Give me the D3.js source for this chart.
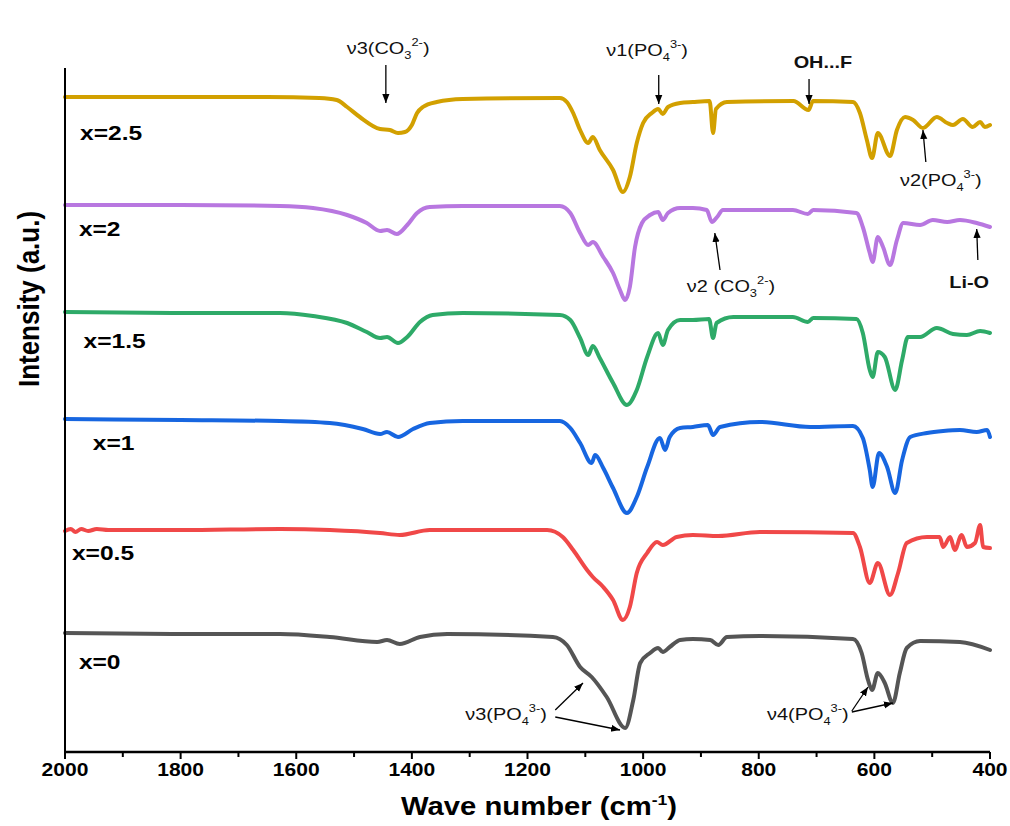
<!DOCTYPE html>
<html>
<head>
<meta charset="utf-8">
<script src="https://cdn.jsdelivr.net/npm/d3@7"></script>
<style>
  body { margin: 0; background: #fff; }
  svg text { font-family: "Liberation Sans", Arial, sans-serif; }
</style>
</head>
<body>
<div id="chart"></div>
<script>
let width = 1010,
    height = 826

// spectra: [wave number (cm-1), intensity (a.u., stacked)]
let spec_x0 = [[2000,11.9],[1800,11.8],[1628,11.8],[1542,11.5],[1460,11.0],[1443,11.2],[1421,10.8],[1386,11.5],[1339,11.8],
  [1156,11.5],[1132,10.7],[1109,8.5],[1089,7.5],[1063,5.5],[1031,2.4],[1017,5.2],[1005,8.9],[988,9.9],[974,10.4],[966,10.0],
  [954,10.5],[936,11.2],[914,11.3],[884,11.2],[870,10.7],[855,11.5],[798,11.6],[637,11.3],[622,9.9],[611,7.2],[604,6.2],
  [594,7.9],[582,6.9],[568,4.9],[556,7.9],[544,10.4],[521,11.1],[452,11.0],[400,10.2]]
let spec_x05 = [[2000,22.1],[1990,22.3],[1982,22.0],[1972,22.3],[1960,22.1],[1945,22.3],[1925,22.2],[1800,22.2],[1628,22.3],
  [1542,22.2],[1455,21.9],[1421,21.7],[1369,22.2],[1166,22.2],[1139,21.5],[1121,20.2],[1097,18.2],[1087,17.5],[1069,16.5],
  [1052,15.2],[1035,13.2],[1023,14.5],[1011,17.9],[993,19.9],[976,21.0],[966,20.7],[942,21.5],[914,21.7],[870,21.6],[798,22.0],
  [637,21.9],[625,20.5],[608,16.9],[594,18.9],[573,15.7],[559,17.9],[544,20.9],[509,21.5],[487,21.5],[481,20.5],[469,21.5],
  [461,20.2],[449,21.7],[440,20.5],[426,20.9],[417,22.7],[412,20.5],[400,20.4]]
let spec_x1 = [[2000,33.3],[1800,33.2],[1628,33.1],[1542,32.9],[1485,32.3],[1455,31.8],[1443,32.0],[1424,31.5],[1398,32.3],
  [1369,32.9],[1312,33.1],[1144,33.1],[1126,32.4],[1109,30.9],[1089,28.9],[1083,29.7],[1069,28.4],[1052,26.4],[1028,23.9],
  [1011,25.5],[993,28.5],[971,31.4],[962,30.2],[954,31.5],[936,32.4],[914,32.5],[888,32.7],[879,31.7],[867,32.5],[798,33.0],
  [711,32.5],[637,32.6],[620,31.4],[608,28.2],[603,26.5],[592,29.9],[578,28.5],[564,25.9],[552,29.2],[538,31.5],[509,31.9],
  [481,32.1],[452,32.2],[423,32.0],[405,32.2],[400,31.5]]
let spec_x15 = [[2000,44.0],[1800,43.9],[1628,43.9],[1571,43.6],[1512,42.9],[1478,42.0],[1455,41.4],[1443,41.5],[1424,40.9],
  [1408,41.5],[1386,43.0],[1364,43.7],[1312,43.9],[1144,43.7],[1126,43.2],[1109,41.4],[1095,39.7],[1087,40.6],[1075,39.4],
  [1052,36.9],[1028,34.7],[1011,36.2],[993,39.5],[974,41.9],[966,40.7],[957,42.2],[936,43.2],[914,43.2],[886,43.3],[879,41.4],
  [873,42.9],[844,43.5],[741,43.5],[715,43.0],[706,43.4],[631,43.3],[620,41.9],[608,38.2],[603,37.5],[594,40.0],[582,39.5],
  [564,36.2],[552,39.2],[542,41.5],[521,41.5],[492,42.4],[464,41.8],[440,41.7],[417,42.1],[400,41.9]]
let spec_x2 = [[2000,54.7],[1800,54.7],[1628,54.6],[1571,54.4],[1512,53.7],[1478,52.9],[1455,52.1],[1443,52.2],[1426,51.8],
  [1408,52.7],[1391,53.9],[1369,54.5],[1312,54.6],[1144,54.6],[1126,53.9],[1109,51.9],[1095,50.7],[1087,51.0],[1069,49.5],
  [1052,47.9],[1040,46.2],[1031,45.2],[1023,46.5],[1014,50.5],[1002,52.9],[988,53.7],[974,54.0],[966,53.2],[957,53.9],
  [936,54.4],[914,54.4],[890,54.2],[881,53.0],[872,53.5],[862,54.2],[741,54.2],[715,53.8],[706,54.2],[631,53.9],[620,52.5],
  [608,49.9],[603,49.0],[594,51.5],[585,50.5],[573,48.7],[561,51.2],[550,52.9],[521,52.7],[499,53.2],[474,53.0],[452,53.2],
  [423,52.9],[400,52.5]]
let spec_x25 = [[2000,65.5],[1800,65.5],[1650,65.5],[1560,65.4],[1530,65.2],[1512,64.5],[1490,63.5],[1455,62.3],[1438,62.2],
  [1424,61.9],[1412,62.0],[1400,62.7],[1391,63.9],[1381,64.5],[1357,65.0],[1312,65.3],[1144,65.4],[1132,65.0],[1121,63.9],
  [1109,62.2],[1095,60.9],[1087,61.5],[1075,60.2],[1052,58.2],[1035,56.0],[1023,57.5],[1011,60.9],[1000,62.9],[985,63.9],
  [974,64.3],[966,63.8],[957,64.5],[936,64.9],[914,65.0],[885,65.1],[879,61.9],[874,64.3],[855,65.0],[740,65.1],[714,64.2],
  [706,65.1],[637,65.0],[625,63.9],[613,61.2],[604,59.4],[594,61.9],[573,59.6],[561,62.2],[547,63.5],[533,63.2],[516,62.4],
  [492,63.5],[474,62.9],[464,62.7],[447,63.3],[430,62.5],[417,63.0],[409,62.5],[400,62.7]]

let seriesNames = ["x=0", "x=0.5", "x=1", "x=1.5", "x=2", "x=2.5"]
let seriesData = [spec_x0, spec_x05, spec_x1, spec_x15, spec_x2, spec_x25]
let seriesColors = ["#555555", "#f04848", "#1766e0", "#2eaa68", "#b877e0", "#d2a000"]

let majorTicks = [2000, 1800, 1600, 1400, 1200, 1000, 800, 600, 400]
let minorTicks = [1900, 1700, 1500, 1300, 1100, 900, 700, 500]

// label anchors (wave number, intensity)
let labelAt = [[1976, 8.3], [1988, 19.2], [1952, 30.2], [1968, 40.4], [1976, 51.6], [1974, 61.2]]

// annotations: text parts, text anchor, arrows [from, to]
let notes = [
  {parts: [["ν3(CO"], ["3", "sub"], ["2-", "sup"], [")"]], at: [1441, 69.8], arrows: [[[1445, 68.7], [1445, 64.9]]]},
  {parts: [["ν1(PO"], ["4", "sub"], ["3-", "sup"], [")"]], at: [993, 69.6], arrows: [[[973, 67.7], [973, 64.8]]]},
  {parts: [["OH...F"]], at: [689, 68.4], bold: true, arrows: [[[713, 67.3], [713, 64.8]]]},
  {parts: [["ν2(PO"], ["4", "sub"], ["3-", "sup"], [")"]], at: [485, 56.6], arrows: [[[511, 59.0], [516, 62.2]]]},
  {parts: [["ν2 (CO"], ["3", "sub"], ["2-", "sup"], [")"]], at: [848, 46.0], arrows: [[[867, 48.2], [876, 51.9]]]},
  {parts: [["Li-O"]], at: [436, 46.4], bold: true, arrows: [[[421, 49.2], [423, 52.3]]]},
  {parts: [["ν3(PO"], ["4", "sub"], ["3-", "sup"], [")"]], at: [1237, 3.2], arrows: [[[1152, 4.2], [1104, 6.9]], [[1152, 3.5], [1040, 2.2]]]},
  {parts: [["ν4(PO"], ["4", "sub"], ["3-", "sup"], [")"]], at: [715, 3.2], arrows: [[[639, 4.1], [611, 6.5]], [[639, 4.0], [568, 4.9]]]}
]

// text in the source figure is drawn a little wide
const SX = 1.17

let svg = d3.select("#chart")
  .append("svg")
    .attr("width", width)
    .attr("height", height)

let x = d3.scaleLinear().domain([2000, 400]).range([65, 990])
let y = d3.scaleLinear().domain([0, 68.4]).range([752, 68])

svg.append("defs").append("marker")
    .attr("id", "head")
    .attr("viewBox", "0 0 10 10")
    .attr("refX", 10).attr("refY", 5)
    .attr("markerWidth", 9).attr("markerHeight", 9)
    .attr("markerUnits", "userSpaceOnUse")
    .attr("orient", "auto")
  .append("path")
    .attr("d", "M0,1 L10,5 L0,9 z")
    .attr("fill", "#000")

let line = d3.line()
  .x(d => x(d[0]))
  .y(d => y(d[1]))
  .curve(d3.curveMonotoneX)

svg.selectAll(".spec")
  .data(seriesData)
  .enter()
  .append("path")
    .attr("class", "spec")
    .attr("d", line)
    .attr("fill", "none")
    .attr("stroke", (d, i) => seriesColors[i])
    .attr("stroke-width", 4)
    .attr("stroke-linejoin", "round")
    .attr("stroke-linecap", "round")

// axes
svg.append("line")
    .attr("x1", 65).attr("x2", 65)
    .attr("y1", y(68.4)).attr("y2", y(0) + 1)
    .attr("stroke", "#000").attr("stroke-width", 2)

let xAxis = svg.append("g").attr("transform", `translate(0,${y(0)})`)
xAxis.append("line")
    .attr("x1", x(2000) - 1).attr("x2", x(400))
    .attr("stroke", "#000").attr("stroke-width", 2.5)
xAxis.selectAll(".minor")
  .data(minorTicks)
  .enter()
  .append("line")
    .attr("x1", d => x(d)).attr("x2", d => x(d))
    .attr("y1", 0).attr("y2", 5)
    .attr("stroke", "#000").attr("stroke-width", 2)
xAxis.selectAll(".major")
  .data(majorTicks)
  .enter()
  .append("line")
    .attr("x1", d => x(d)).attr("x2", d => x(d))
    .attr("y1", 0).attr("y2", 7)
    .attr("stroke", "#000").attr("stroke-width", 2)
xAxis.selectAll(".tl")
  .data(majorTicks)
  .enter()
  .append("text")
    .attr("transform", d => `translate(${x(d)},24) scale(${SX},1)`)
    .attr("text-anchor", "middle")
    .style("font-size", "18px")
    .style("font-weight", "bold")
    .text(d => d)

let xt = svg.append("text")
    .attr("transform", `translate(${x(1180)},${y(0) + 63}) scale(${SX},1)`)
    .attr("text-anchor", "middle")
    .style("font-size", "25px")
    .style("font-weight", "bold")
xt.append("tspan").text("Wave number (cm")
xt.append("tspan").attr("dy", -10).style("font-size", "15px").text("-1")
xt.append("tspan").attr("dy", 10).text(")")

svg.append("text")
    .attr("transform", `translate(39,${y(45.3)}) scale(1.12,1) rotate(-90)`)
    .attr("text-anchor", "middle")
    .style("font-size", "26px")
    .style("font-weight", "bold")
    .text("Intensity (a.u.)")

// series labels
svg.selectAll(".lab")
  .data(seriesNames)
  .enter()
  .append("text")
    .attr("transform", (d, i) => `translate(${x(labelAt[i][0])},${y(labelAt[i][1])}) scale(${SX},1)`)
    .style("font-size", "21px")
    .style("font-weight", "bold")
    .text(d => d)

// annotations
notes.forEach(n => {
  let t = svg.append("text")
      .attr("transform", `translate(${x(n.at[0])},${y(n.at[1])}) scale(${SX},1)`)
      .attr("text-anchor", "middle")
      .style("font-size", n.bold ? "17px" : "17px")
      .style("font-weight", n.bold ? "bold" : "normal")
      .attr("fill", "#111")
  let shift = 0
  n.parts.forEach(p => {
    let dy = 0
    if (p[1] === "sub") dy = 5 - shift
    else if (p[1] === "sup") dy = -8 - shift
    else dy = -shift
    let s = t.append("tspan").attr("dy", dy).text(p[0])
    if (p[1]) s.style("font-size", "11px")
    shift += dy
  })
  n.arrows.forEach(a => {
    svg.append("line")
        .attr("x1", x(a[0][0])).attr("y1", y(a[0][1]))
        .attr("x2", x(a[1][0])).attr("y2", y(a[1][1]))
        .attr("stroke", "#000")
        .attr("stroke-width", 1.3)
        .attr("marker-end", "url(#head)")
  })
})
</script>
</body>
</html>
